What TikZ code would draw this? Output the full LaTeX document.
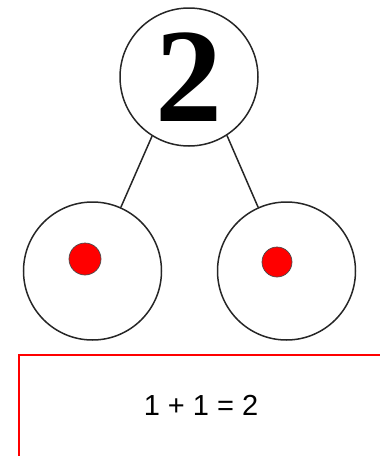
\documentclass[tikz,border=0pt]{standalone}
\usepackage{fontspec}
\usepackage{tikz}
\usetikzlibrary{positioning}
\newfontfamily\numfont{Liberation Serif}
\newfontfamily\eqfont{Liberation Sans}

\begin{document}
\begin{tikzpicture}[x=1pt,y=-1pt,
    bubble/.style={draw=black!85,circle,line width=1.5pt,minimum size=138pt,inner sep=0pt},
    dot/.style={draw=black!70,circle,fill=red,line width=0.7pt,minimum size=32pt,inner sep=0pt}]
    \useasboundingbox (0,0) rectangle (380,456);
    \node[bubble] (whole) at (189,77) {\numfont\bfseries\fontsize{134}{134}\selectfont 2};
    \node[bubble] (partA) at (92.5,271) {};
    \node[bubble] (partB) at (286.5,271) {};
    \node[dot] (dotA) at (85,259) {};
    \node[dot,minimum size=30pt] (dotB) at (277,262) {};
    \draw[line width=1.5pt,black!85] (whole.238) -- (partA.66);
    \draw[line width=1.5pt,black!85] (whole.303) -- (partB.114);
    \node[draw=red,line width=1.5pt,minimum width=372pt,minimum height=112pt,anchor=north west] (sumbox) at (18,354) {};
    \node (sum) at (201,405) {\eqfont\fontsize{29}{29}\selectfont 1 + 1 = 2};
  \end{tikzpicture}
\end{document}
